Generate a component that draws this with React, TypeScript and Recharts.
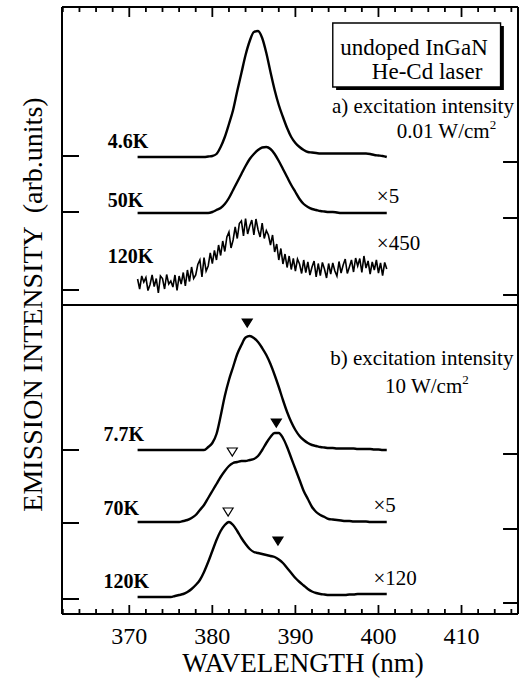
import React from "react"
import {
  ComposedChart,
  Line,
  Scatter,
  XAxis,
  YAxis,
  ReferenceLine,
  ReferenceArea,
  ReferenceDot,
} from "recharts"

const FONT = '"Liberation Serif", "Times New Roman", serif'

// wavelength grid of the smooth spectra (nm)
const wl = [
  371, 371.5, 372, 372.5, 373, 373.5, 374, 374.5, 375, 375.5,
  376, 376.5, 377, 377.5, 378, 378.5, 379, 379.5, 380, 380.5,
  381, 381.5, 382, 382.5, 383, 383.5, 384, 384.5, 385, 385.5,
  386, 386.5, 387, 387.5, 388, 388.5, 389, 389.5, 390, 390.5,
  391, 391.5, 392, 392.5, 393, 393.5, 394, 394.5, 395, 395.5,
  396, 396.5, 397, 397.5, 398, 398.5, 399, 399.5, 400, 400.5,
  401,
]

// wavelength grid of the noisy 120K trace (panel a)
const wlFine = [
  371, 371.25, 371.5, 371.75, 372, 372.25, 372.5, 372.75,
  373, 373.25, 373.5, 373.75, 374, 374.25, 374.5, 374.75,
  375, 375.25, 375.5, 375.75, 376, 376.25, 376.5, 376.75,
  377, 377.25, 377.5, 377.75, 378, 378.25, 378.5, 378.75,
  379, 379.25, 379.5, 379.75, 380, 380.25, 380.5, 380.75,
  381, 381.25, 381.5, 381.75, 382, 382.25, 382.5, 382.75,
  383, 383.25, 383.5, 383.75, 384, 384.25, 384.5, 384.75,
  385, 385.25, 385.5, 385.75, 386, 386.25, 386.5, 386.75,
  387, 387.25, 387.5, 387.75, 388, 388.25, 388.5, 388.75,
  389, 389.25, 389.5, 389.75, 390, 390.25, 390.5, 390.75,
  391, 391.25, 391.5, 391.75, 392, 392.25, 392.5, 392.75,
  393, 393.25, 393.5, 393.75, 394, 394.25, 394.5, 394.75,
  395, 395.25, 395.5, 395.75, 396, 396.25, 396.5, 396.75,
  397, 397.25, 397.5, 397.75, 398, 398.25, 398.5, 398.75,
  399, 399.25, 399.5, 399.75, 400, 400.25, 400.5, 400.75,
  401,
]

// a) 0.01 W/cm2
const a4_6K = [
  0, 0, 0, 0, 0, 0, 0, 0, 0, 0,
  0, 0, 0, 0, 0, 0, 0, 0.1, 0.2, 0.6,
  2.0, 4.0, 6.6, 9.4, 13.2, 16.8, 20.4, 23.2, 25.0, 25.2,
  23.8, 20.8, 17.0, 13.4, 10.4, 8.0, 5.8, 4.0, 2.8, 2.0,
  1.4, 1.0, 0.9, 0.8, 0.7, 0.7, 0.7, 0.7, 0.7, 0.7,
  0.7, 0.7, 0.7, 0.7, 0.7, 0.7, 0.6, 0.4, 0.3, 0.2,
  0,
]
const a50K = [
  0, 0, 0, 0, 0, 0, 0, 0, 0, 0,
  0, 0, 0, 0, 0, 0, 0, 0, 0.2, 0.6,
  1.0, 1.8, 3.0, 4.6, 6.2, 7.8, 9.4, 10.8, 11.8, 12.6,
  13.1, 13.2, 12.8, 11.8, 10.4, 8.8, 7.2, 5.6, 4.2, 2.8,
  1.8, 1.2, 0.8, 0.6, 0.4, 0.3, 0.2, 0.2, 0.1, 0,
  0, 0, 0, 0, 0, 0, 0, 0, 0, 0,
  0,
]
const a120K = [
  0.8, -1.2, 1.4, 0.2, 1.1, -1.5, -0.3, 1.6,
  -0.7, 0.9, -2.0, 1.4, 0.9, -1.2, 1.7, -0.2,
  0.4, -0.8, 1.6, -1.5, 1.4, -0.2, 2.1, -0.6,
  2.6, 0.3, 3.2, 0.9, 1.6, 3.7, 4.6, 1.2,
  5.1, 2.4, 3.4, 6.0, 3.9, 6.5, 4.6, 7.6,
  5.5, 8.4, 6.3, 9.2, 10.2, 7.0, 8.6, 11.2,
  8.9, 11.9, 12.4, 9.4, 12.9, 9.8, 11.4, 12.6,
  9.6, 12.8, 10.7, 9.2, 12.0, 8.9, 10.5, 9.6,
  7.6, 9.6, 6.2, 7.8, 4.6, 6.9, 3.8, 5.8,
  3.1, 5.4, 2.7, 4.9, 2.4, 4.8, 3.8, 1.9,
  4.6, 2.1, 4.2, 1.6, 3.2, 4.4, 1.2, 3.9,
  1.5, 4.1, 2.8, 1.0, 3.9, 1.8, 4.0, 2.4,
  1.4, 4.3, 2.0, 3.6, 4.8, 1.9, 3.2, 4.6,
  2.2, 5.0, 3.4, 4.9, 2.1, 5.4, 3.0, 4.4,
  1.8, 4.2, 2.6, 4.6, 2.0, 4.0, 1.5, 4.1,
  2.8,
]

// b) 10 W/cm2
const b7_7K = [
  0, 0, 0, 0, 0, 0, 0, 0, 0, 0,
  0, 0, 0, 0, 0, 0, 0, 0.6, 1.4, 3.2,
  6.8, 10.8, 14.0, 16.6, 19.2, 21.0, 22.5, 22.8, 22.4, 21.6,
  20.4, 19.0, 17.2, 15.0, 12.6, 10.0, 7.6, 5.6, 4.0, 2.8,
  2.0, 1.4, 1.0, 0.8, 0.6, 0.5, 0.4, 0.4, 0.3, 0.3,
  0.3, 0.3, 0.3, 0.2, 0.2, 0.2, 0.2, 0.1, 0.1, 0,
  0,
]
const b70K = [
  0, 0, 0, 0, 0, 0, 0, 0, 0, 0,
  0, 0.2, 0.4, 0.8, 1.4, 2.4, 3.4, 4.8, 6.2, 7.6,
  9.0, 10.2, 11.2, 11.8, 12.0, 12.2, 12.2, 12.4, 12.6, 13.2,
  14.4, 15.8, 17.0, 17.8, 17.8, 16.8, 15.0, 12.8, 10.6, 8.4,
  6.2, 4.6, 3.0, 2.0, 1.4, 1.0, 0.6, 0.5, 0.4, 0.3,
  0.2, 0.2, 0.1, 0.1, 0.1, 0.1, 0, 0, 0, 0,
  0,
]
const b120K = [
  0, 0, 0, 0, 0, 0, 0, 0, 0, 0.2,
  0.4, 0.6, 1.0, 1.6, 2.4, 3.4, 5.0, 7.0, 9.2, 11.4,
  13.2, 14.4, 15.0, 14.4, 13.2, 11.8, 10.6, 9.6, 9.0, 8.8,
  8.6, 8.4, 8.2, 8.0, 7.5, 6.8, 5.8, 4.8, 3.8, 3.0,
  2.3, 1.6, 1.1, 0.8, 0.6, 0.5, 0.4, 0.4, 0.4, 0.4,
  0.4, 0.5, 0.5, 0.6, 0.6, 0.6, 0.6, 0.6, 0.6, 0.6,
  0.6,
]

// vertical shift of each trace in the stacked plot
const offA4_6K = 91.4
const offA50K = 80.2
const offA120K = 66.2
const offB7_7K = 32.8
const offB70K = 18.4
const offB120K = 3.4
const panelSplit = 61.8

// peak markers
const peaksFilled = [
  { x: 384.2, y: 58.2 },
  { x: 387.7, y: 38.2 },
  { x: 387.9, y: 14.6 },
]
const peaksOpen = [
  { x: 382.4, y: 32.4 },
  { x: 381.9, y: 20.4 },
]

const X_MIN = 361.9
const X_MAX = 416.8
const Y_MAX = 121.4

const xTicks = [
  362, 364, 366, 368, 370, 372, 374, 376, 378, 380, 382, 384, 386, 388,
  390, 392, 394, 396, 398, 400, 402, 404, 406, 408, 410, 412, 414, 416,
]
const yTicksLeft = [3.0, 18.2, 32.8, 64.8, 80.4, 91.6]
const yTicksRight = [2.2, 17.0, 32.0, 63.8, 79.2, 90.4]

const notes = [
  { x: 367.4, y: 93.2, text: "4.6K", bold: true },
  { x: 367.4, y: 81.4, text: "50K", bold: true },
  { x: 367.4, y: 70.2, text: "120K", bold: true },
  { x: 366.9, y: 34.6, text: "7.7K", bold: true },
  { x: 366.9, y: 19.8, text: "70K", bold: true },
  { x: 366.9, y: 5.2, text: "120K", bold: true },
  { x: 399.8, y: 82.2, text: "×5", bold: false },
  { x: 399.8, y: 72.8, text: "×450", bold: false },
  { x: 399.4, y: 20.4, text: "×5", bold: false },
  { x: 399.4, y: 5.8, text: "×120", bold: false },
]

const textNotes = [
  { x: 395.4, y: 111.9, text: "undoped InGaN", sup: "", size: 23 },
  { x: 399.2, y: 107.1, text: "He-Cd laser", sup: "", size: 23 },
  { x: 394.4, y: 100.2, text: "a) excitation intensity", sup: "", size: 21 },
  { x: 402.2, y: 95.2, text: "0.01 W/cm", sup: "2", size: 21 },
  { x: 394.2, y: 49.8, text: "b) excitation intensity", sup: "", size: 21 },
  { x: 400.8, y: 44.2, text: "10 W/cm", sup: "2", size: 21 },
]

const series = (xs: number[], ys: number[], off: number) =>
  xs.map((x, i) => ({ x, y: ys[i] + off }))

const BottomTick = (props: any) => {
  const { x, y, payload } = props
  const major = payload.value % 10 === 0
  return (
    <g>
      <line x1={x} x2={x} y1={y} y2={y - (major ? 9 : 5)} stroke="#000" strokeWidth={1.8} />
      {major && (
        <text x={x} y={y + 30} textAnchor="middle" fontFamily={FONT} fontSize={24} fill="#000">
          {payload.value}
        </text>
      )}
    </g>
  )
}

const LeftTick = (props: any) => {
  const { x, y } = props
  return <line x1={x} x2={x + 17} y1={y} y2={y} stroke="#000" strokeWidth={2} />
}

const Tri = (filled: boolean) => (props: any) => {
  const { cx, cy } = props
  return (
    <path
      d={`M${cx - 5},${cy - 4}L${cx + 5},${cy - 4}L${cx},${cy + 4}Z`}
      fill={filled ? "#000" : "#fff"}
      stroke="#000"
      strokeWidth={1.2}
    />
  )
}

export default function App() {
  return (
    <div style={{ position: "absolute", left: 0, top: 0, width: 526, height: 686, background: "#fff" }}>
      <ComposedChart width={526} height={686} margin={{ top: 2, right: 3, bottom: 12, left: 12 }}>
        <XAxis
          xAxisId="b"
          type="number"
          dataKey="x"
          domain={[X_MIN, X_MAX]}
          ticks={xTicks}
          interval={0}
          height={60}
          tickSize={0}
          tickMargin={0}
          tickLine={false}
          tick={<BottomTick />}
          axisLine={{ stroke: "#000", strokeWidth: 2 }}
          label={{
            content: (p: any) => {
              const vb = p.viewBox ?? { x: 62, y: 614, width: 456, height: 60 }
              return (
                <text x={vb.x + vb.width / 2 + 13} y={vb.y + 58} textAnchor="middle" fontFamily={FONT} fontSize={27} fill="#000">
                  WAVELENGTH (nm)
                </text>
              )
            },
          }}
        />
        <XAxis
          xAxisId="t"
          orientation="top"
          type="number"
          dataKey="x"
          domain={[X_MIN, X_MAX]}
          height={5}
          tick={false}
          tickLine={false}
          axisLine={{ stroke: "#000", strokeWidth: 2 }}
        />
        <YAxis
          yAxisId="left"
          type="number"
          domain={[0, Y_MAX]}
          ticks={yTicksLeft}
          interval={0}
          width={50}
          tickSize={0}
          tickMargin={0}
          tickLine={false}
          tick={<LeftTick />}
          axisLine={{ stroke: "#000", strokeWidth: 2 }}
          label={{
            content: (p: any) => {
              const vb = p.viewBox ?? { x: 12, y: 7, width: 50, height: 607 }
              const tx = vb.x + vb.width - 20
              const ty = vb.y + vb.height / 2 - 6
              return (
                <text x={tx} y={ty} transform={`rotate(-90, ${tx}, ${ty})`} textAnchor="middle" fontFamily={FONT} fontSize={28} fill="#000" style={{ whiteSpace: "pre" }}>
                  {"EMISSION INTENSITY  (arb.units)"}
                </text>
              )
            },
          }}
        />
        <YAxis
          yAxisId="right"
          orientation="right"
          type="number"
          domain={[0, Y_MAX]}
          width={5}
          tick={false}
          tickLine={false}
          axisLine={{ stroke: "#000", strokeWidth: 2 }}
        />

        {/* inward ticks along the top and right frame */}
        {xTicks.map((v) => (
          <ReferenceLine
            key={"tt" + v}
            xAxisId="b"
            yAxisId="left"
            ifOverflow="visible"
            segment={[
              { x: v, y: Y_MAX },
              { x: v, y: Y_MAX - (v % 10 === 0 ? 2 : 1) },
            ]}
            stroke="#000"
            strokeWidth={1.8}
          />
        ))}
        {yTicksRight.map((v) => (
          <ReferenceLine
            key={"rt" + v}
            xAxisId="b"
            yAxisId="left"
            ifOverflow="visible"
            segment={[
              { x: X_MAX, y: v },
              { x: X_MAX - 1.8, y: v },
            ]}
            stroke="#000"
            strokeWidth={2}
          />
        ))}

        <ReferenceLine xAxisId="b" yAxisId="left" y={panelSplit} stroke="#000" strokeWidth={2} />

        <ReferenceArea xAxisId="b" yAxisId="left" x1={394.9} x2={415.1} y1={104.8} y2={117.6} fill="#000" fillOpacity={1} stroke="none" ifOverflow="visible" />
        <ReferenceArea xAxisId="b" yAxisId="left" x1={394.5} x2={414.7} y1={105.4} y2={118.2} fill="#fff" fillOpacity={1} stroke="#000" strokeWidth={1.4} ifOverflow="visible" />

        <Line xAxisId="b" yAxisId="left" data={series(wl, a4_6K, offA4_6K)} dataKey="y" type="monotone" stroke="#000" strokeWidth={2.4} dot={false} isAnimationActive={false} />
        <Line xAxisId="b" yAxisId="left" data={series(wl, a50K, offA50K)} dataKey="y" type="monotone" stroke="#000" strokeWidth={2.4} dot={false} isAnimationActive={false} />
        <Line xAxisId="b" yAxisId="left" data={series(wlFine, a120K, offA120K)} dataKey="y" type="linear" stroke="#000" strokeWidth={1.6} dot={false} isAnimationActive={false} />
        <Line xAxisId="b" yAxisId="left" data={series(wl, b7_7K, offB7_7K)} dataKey="y" type="monotone" stroke="#000" strokeWidth={2.4} dot={false} isAnimationActive={false} />
        <Line xAxisId="b" yAxisId="left" data={series(wl, b70K, offB70K)} dataKey="y" type="monotone" stroke="#000" strokeWidth={2.4} dot={false} isAnimationActive={false} />
        <Line xAxisId="b" yAxisId="left" data={series(wl, b120K, offB120K)} dataKey="y" type="monotone" stroke="#000" strokeWidth={2.4} dot={false} isAnimationActive={false} />

        {/* keeps the top/right frame axes tied to a series */}
        <Line xAxisId="t" yAxisId="right" data={series(wl, a4_6K, offA4_6K)} dataKey="y" stroke="none" dot={false} activeDot={false} isAnimationActive={false} />

        <Scatter xAxisId="b" yAxisId="left" data={peaksFilled} dataKey="y" shape={Tri(true)} isAnimationActive={false} />
        <Scatter xAxisId="b" yAxisId="left" data={peaksOpen} dataKey="y" shape={Tri(false)} isAnimationActive={false} />

        {notes.map((n, i) => (
          <ReferenceDot
            key={"n" + i}
            xAxisId="b"
            yAxisId="left"
            x={n.x}
            y={n.y}
            r={0}
            ifOverflow="visible"
            shape={(p: any) => (
              <text x={p.cx} y={p.cy} fontFamily={FONT} fontSize={n.bold ? 20 : 21} fontWeight={n.bold ? "bold" : "normal"} fill="#000">
                {n.text}
              </text>
            )}
          />
        ))}
        {textNotes.map((n, i) => (
          <ReferenceDot
            key={"t" + i}
            xAxisId="b"
            yAxisId="left"
            x={n.x}
            y={n.y}
            r={0}
            ifOverflow="visible"
            shape={(p: any) => (
              <text x={p.cx} y={p.cy} fontFamily={FONT} fontSize={n.size} fill="#000">
                {n.text}
                {n.sup && (
                  <tspan dy={-9} fontSize={13}>
                    {n.sup}
                  </tspan>
                )}
              </text>
            )}
          />
        ))}
      </ComposedChart>
    </div>
  )
}
